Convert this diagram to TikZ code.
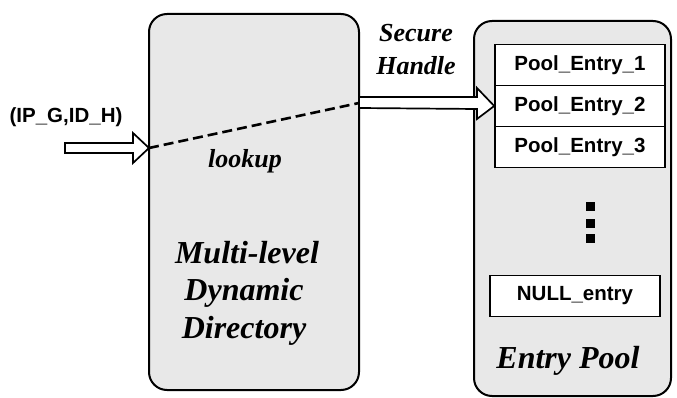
\documentclass[tikz,border=0pt]{standalone}
\usepackage{fontspec}
\setmainfont{Liberation Serif}
\newfontfamily\entryfont{Liberation Sans}
\begin{document}
\begin{tikzpicture}[x=1pt,y=-1pt,
  panel/.style={draw=black,line width=2pt,fill=black!9,rounded corners=18pt},
  entrybox/.style={draw=black,line width=1.6pt,fill=white,minimum width=170pt,minimum height=41pt,
    inner sep=0pt,font=\entryfont\bfseries\fontsize{20.5}{24}\selectfont},
  label/.style={font=\bfseries\itshape\fontsize{32}{37.5}\selectfont,align=center,inner sep=0pt},
  smalllabel/.style={font=\bfseries\itshape\fontsize{26}{33}\selectfont,align=center,inner sep=0pt},
  hollow/.style={draw=black,line width=1.7pt,fill=white,line join=miter},
  dot/.style={fill=black,minimum size=9pt,inner sep=0pt}]
\useasboundingbox (0,0) rectangle (677,398);

% directory panel
\draw[panel] (149,14) rectangle (359,390);
\coordinate (dirin) at (149,148);
\coordinate (dirout) at (359,103);

% entry pool panel
\draw[panel] (474,21) rectangle (671,396);

% pool entries
\node[entrybox] (e1) at (580,65) {Pool\_Entry\_1};
\node[entrybox] (e2) at (580,106) {Pool\_Entry\_2};
\node[entrybox] (e3) at (580,147) {Pool\_Entry\_3};
\node[entrybox] (enull) at (575,296) {NULL\_entry};

% vertical ellipsis
\node[dot] (d1) at (590,207) {};
\node[dot] (d2) at (590,223) {};
\node[dot] (d3) at (590,238) {};

% labels
\node[font=\entryfont\bfseries\fontsize{20.5}{24}\selectfont,inner sep=0pt,anchor=base] (key) at (66,123) {(IP\_G,ID\_H)};
\node[smalllabel,anchor=base] (lookup) at (245,168) {lookup};
\node[smalllabel,anchor=base] (secure) at (416,42) {Secure};
\node[smalllabel,anchor=base] (handle) at (416,75) {Handle};
\node[label,anchor=base] (multi) at (247,263) {Multi-level};
\node[label,anchor=base] (dynamic) at (244,300) {Dynamic};
\node[label,anchor=base] (directory) at (244,338) {Directory};
\node[label,anchor=base] (poolname) at (568,368) {Entry Pool};

% incoming key arrow
\coordinate (kin) at (65,148);
\draw[hollow] (kin) ++(0,-5) -- (133,143) -- (133,133) -- (dirin) -- (133,163) -- (133,153) -- (65,153) -- cycle;

% lookup path through the directory
\draw[line width=2.6pt,dash pattern=on 10pt off 5pt] (dirin) -- (dirout);

% secure handle arrow into the pool
\draw[hollow] (dirout) ++(0,-6) -- (477,97) -- (477,88) -- (e2.west) -- (477,119) -- (477,109) -- (359,108) -- cycle;
\end{tikzpicture}
\end{document}
